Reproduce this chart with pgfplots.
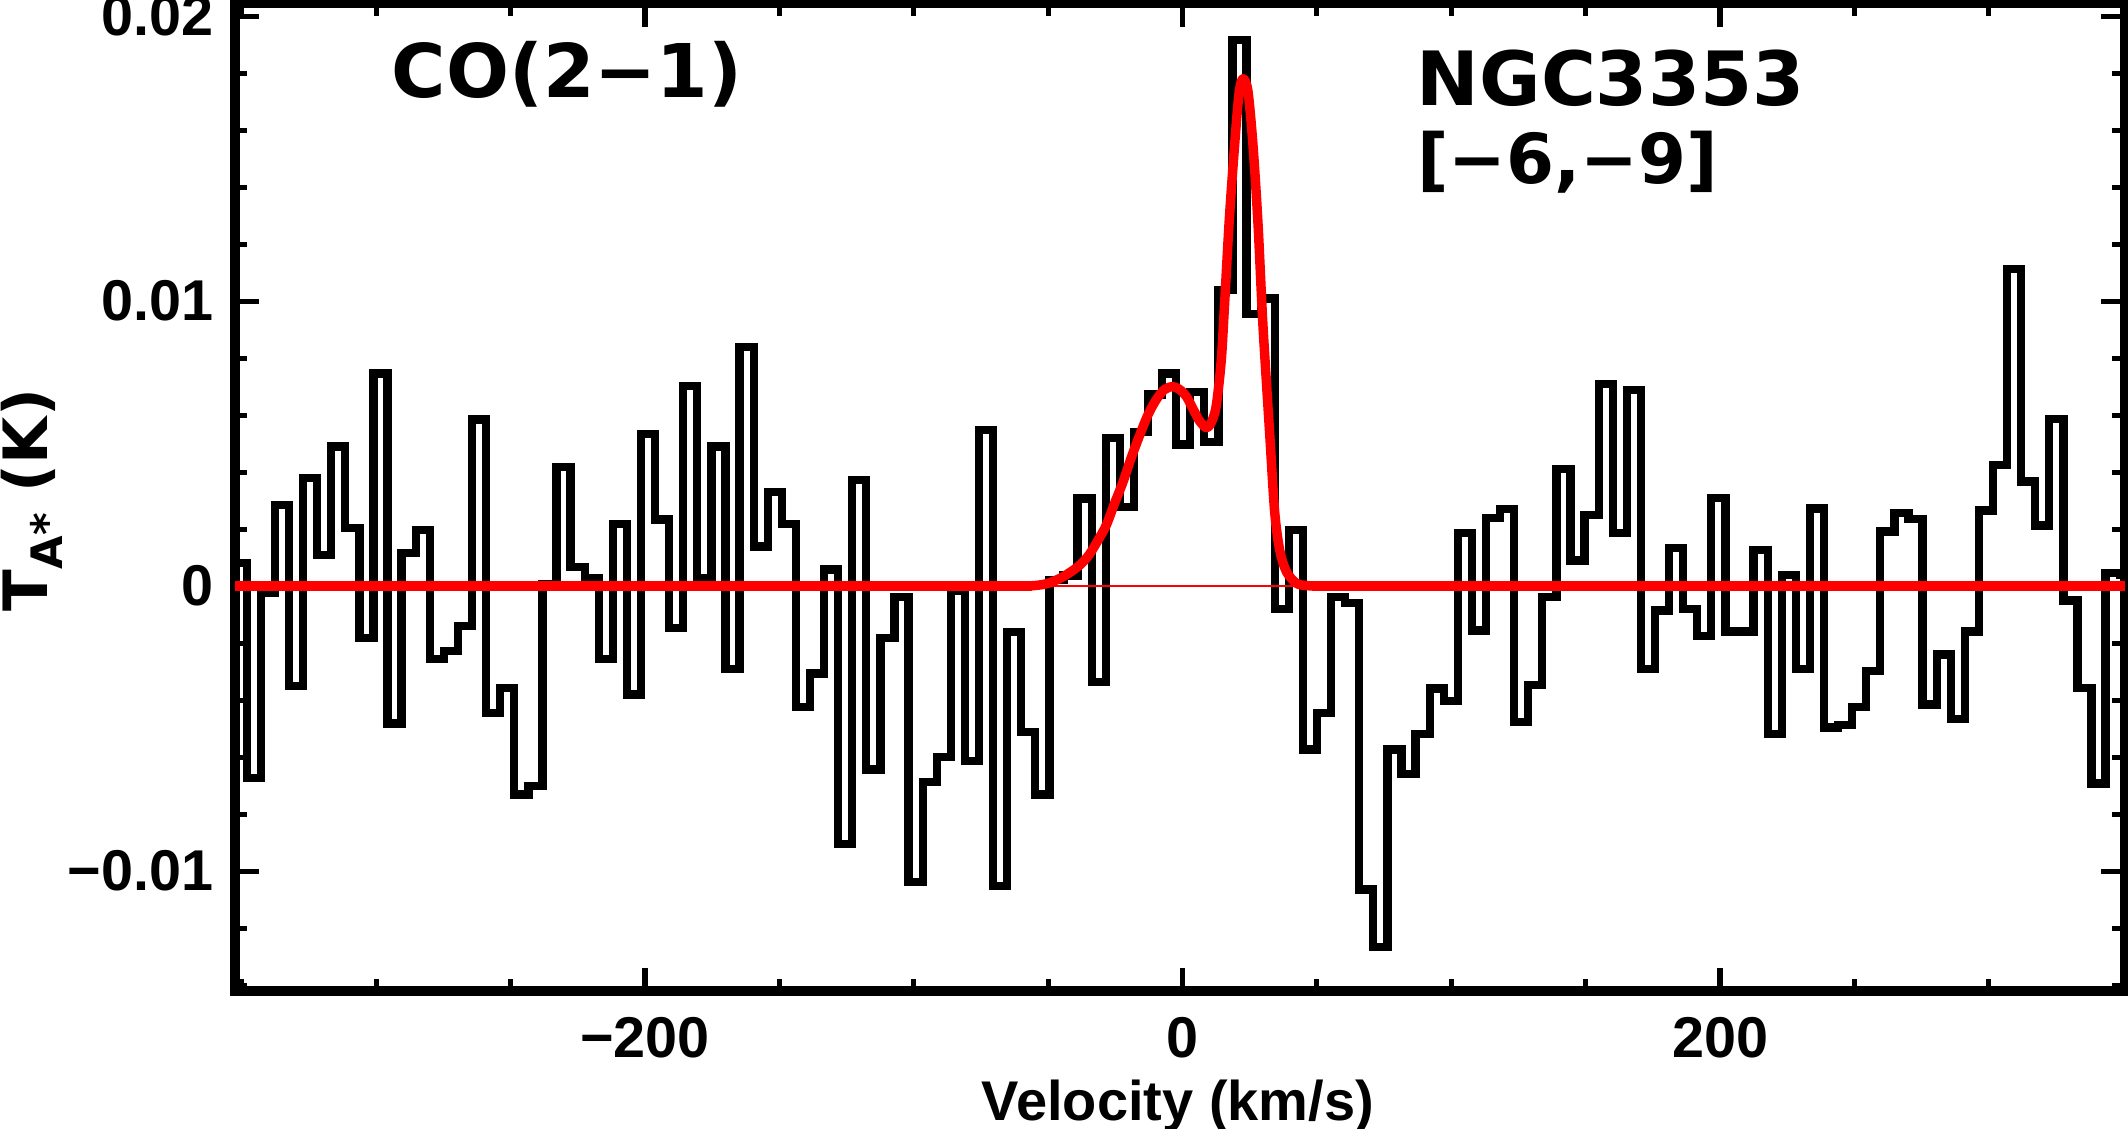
\documentclass[border=0pt]{standalone}
\usepackage{fontspec}
\setmainfont{Liberation Sans}
\newfontfamily\dejavu{DejaVu Sans}
\usepackage{pgfplots}
\pgfplotsset{compat=1.18}
\usepackage{pgfplotstable}
\pgfplotstableread{
v T
-352.60 0.00080
-348.20 -0.00673
-342.96 -0.00022
-337.72 0.00285
-332.48 -0.00351
-327.24 0.00380
-322.00 0.00110
-316.76 0.00490
-311.52 0.00205
-306.28 -0.00183
-301.04 0.00746
-295.80 -0.00482
-290.56 0.00117
-285.32 0.00197
-280.08 -0.00256
-274.84 -0.00227
-269.60 -0.00139
-264.36 0.00585
-259.12 -0.00446
-253.88 -0.00358
-248.64 -0.00731
-243.40 -0.00702
-238.16 0.00007
-232.92 0.00417
-227.68 0.00066
-222.44 0.00029
-217.20 -0.00256
-211.96 0.00219
-206.72 -0.00380
-201.48 0.00534
-196.24 0.00234
-191.00 -0.00146
-185.76 0.00702
-180.52 0.00029
-175.28 0.00490
-170.04 -0.00292
-164.80 0.00840
-159.56 0.00139
-154.32 0.00329
-149.08 0.00219
-143.84 -0.00424
-138.60 -0.00307
-133.36 0.00058
-128.12 -0.00906
-122.88 0.00373
-117.64 -0.00643
-112.40 -0.00183
-107.16 -0.00037
-101.92 -0.01038
-96.68 -0.00687
-91.44 -0.00600
-86.20 -0.00015
-80.96 -0.00614
-75.72 0.00548
-70.48 -0.01053
-65.24 -0.00161
-60.00 -0.00512
-54.76 -0.00731
-49.52 0.00022
-44.28 0.00037
-39.04 0.00307
-33.80 -0.00336
-28.56 0.00519
-23.32 0.00278
-18.08 0.00541
-12.84 0.00672
-7.60 0.00746
-2.36 0.00497
2.88 0.00680
8.12 0.00506
13.36 0.01040
18.60 0.01917
23.84 0.00955
29.08 0.01009
34.32 -0.00081
39.56 0.00197
44.80 -0.00573
50.04 -0.00445
55.28 -0.00038
60.52 -0.00060
65.76 -0.01064
71.00 -0.01267
76.24 -0.00573
81.48 -0.00658
86.72 -0.00519
91.96 -0.00359
97.20 -0.00402
102.44 0.00186
107.68 -0.00156
112.92 0.00239
118.16 0.00271
123.40 -0.00477
128.64 -0.00348
133.88 -0.00038
139.12 0.00410
144.36 0.00090
149.60 0.00250
154.84 0.00710
160.08 0.00186
165.32 0.00688
170.56 -0.00291
175.80 -0.00086
181.04 0.00133
186.28 -0.00079
191.52 -0.00174
196.76 0.00308
202.00 -0.00159
207.24 -0.00159
212.48 0.00126
217.72 -0.00518
222.96 0.00038
228.20 -0.00291
233.44 0.00272
238.68 -0.00496
243.92 -0.00488
249.16 -0.00423
254.40 -0.00298
259.64 0.00192
264.88 0.00257
270.12 0.00235
275.36 -0.00415
280.60 -0.00240
285.84 -0.00466
291.08 -0.00159
296.32 0.00265
301.56 0.00425
306.80 0.01113
312.04 0.00367
317.28 0.00213
322.52 0.00586
327.76 -0.00050
333.00 -0.00357
338.24 -0.00693
343.48 0.00045
348.72 0.00040
350.70 0.00040
}\spectrum
\pgfplotstableread{
v T
-58.0 0.0000
-54.0 0.00003
-50.0 0.0001
-45.0 0.0003
-40.8 0.00055
-37.5 0.0008
-34.6 0.00112
-31.5 0.0016
-28.4 0.00213
-25.3 0.0029
-22.2 0.00364
-19.1 0.0045
-16.0 0.00528
-12.9 0.0060
-9.8 0.00654
-6.7 0.0069
-3.6 0.0070
-1.1 0.0069
1.4 0.00666
4.0 0.0062
6.3 0.0058
8.8 0.00556
10.5 0.0057
12.5 0.0063
14.4 0.0079
15.6 0.0098
17.5 0.0130
19.9 0.0161
21.2 0.0174
22.5 0.0178
24.3 0.0174
26.2 0.0155
28.1 0.0127
29.9 0.0092
32.4 0.0054
34.3 0.0026
36.2 0.00125
38.7 0.0005
42.4 0.0001
46.0 0.00002
50.0 0.0000
}\fit
\begin{document}
\begin{tikzpicture}
\begin{axis}[
  name=ax, at={(0,0)}, anchor=south west,
  scale only axis, width=479.6pt, height=250.8pt,
  xmin=-352.6, xmax=350.7, ymin=-0.01422, ymax=0.02046,
  clip=false,
  axis line style={line width=2.5pt},
  tick align=inside,
  xtick={-200,0,200}, xticklabels={−200,0,200},
  minor xtick={-350,-300,-250,-150,-100,-50,50,100,150,250,300,350},
  ytick={-0.01,0,0.01,0.02}, yticklabels={−0.01,0,0.01,0.02},
  minor ytick={-0.014,-0.012,-0.008,-0.006,-0.004,-0.002,0.002,0.004,0.006,0.008,0.012,0.014,0.016,0.018},
  scaled y ticks=false,
  major tick length=6pt, minor tick length=3.2pt,
  every tick/.style={black, line width=1.3pt},
  tick label style={font=\fontsize{14.6}{14.6}\selectfont\bfseries},
  xticklabel style={yshift=-3pt},
  yticklabel style={xshift=-2pt},
]
\addplot[black, line width=2.1pt, const plot mark left, line join=miter] table[x=v,y=T] {\spectrum};
\addplot[red, line width=0.4pt] coordinates {(-352.6,0) (350.7,0)};
\addplot[red, line width=2.4pt] coordinates {(-352.6,0) (-56,0)};
\addplot[red, line width=2.4pt] coordinates {(48,0) (350.7,0)};
\addplot[red, line width=2.4pt, smooth, line join=round] table[x=v,y=T] {\fit};
\node[anchor=base west, inner sep=0pt, font=\dejavu\bfseries\fontsize{18.8}{18.8}\selectfont] at (axis cs:-294.5,0.01716) {CO(2−1)};
\node[anchor=base west, inner sep=0pt, font=\dejavu\bfseries\fontsize{19}{19}\selectfont] at (axis cs:86.9,0.01688) {NGC3353};
\node[anchor=base west, inner sep=0pt, font=\dejavu\bfseries\fontsize{17.5}{17.5}\selectfont] at (axis cs:87.0,0.01413) {[−6,−9]};
\node[rotate=90, anchor=base, inner sep=0pt, font=\dejavu\bfseries\fontsize{15.5}{15.5}\selectfont] at (axis cs:-422.5,0.00302) {T\raisebox{-0.45ex}{\fontsize{11}{11}\selectfont A*} (K)};
\node[anchor=base, inner sep=0pt, font=\fontsize{14.2}{14.2}\selectfont\bfseries] at (axis cs:-1.7,-0.018737) {Velocity (km/s)};
\end{axis}
\pgfresetboundingbox
\useasboundingbox ([shift={(-59.6pt,-34.7pt)}]ax.south west) rectangle ([shift={(0.76pt,0.76pt)}]ax.north east);
\end{tikzpicture}
\end{document}
